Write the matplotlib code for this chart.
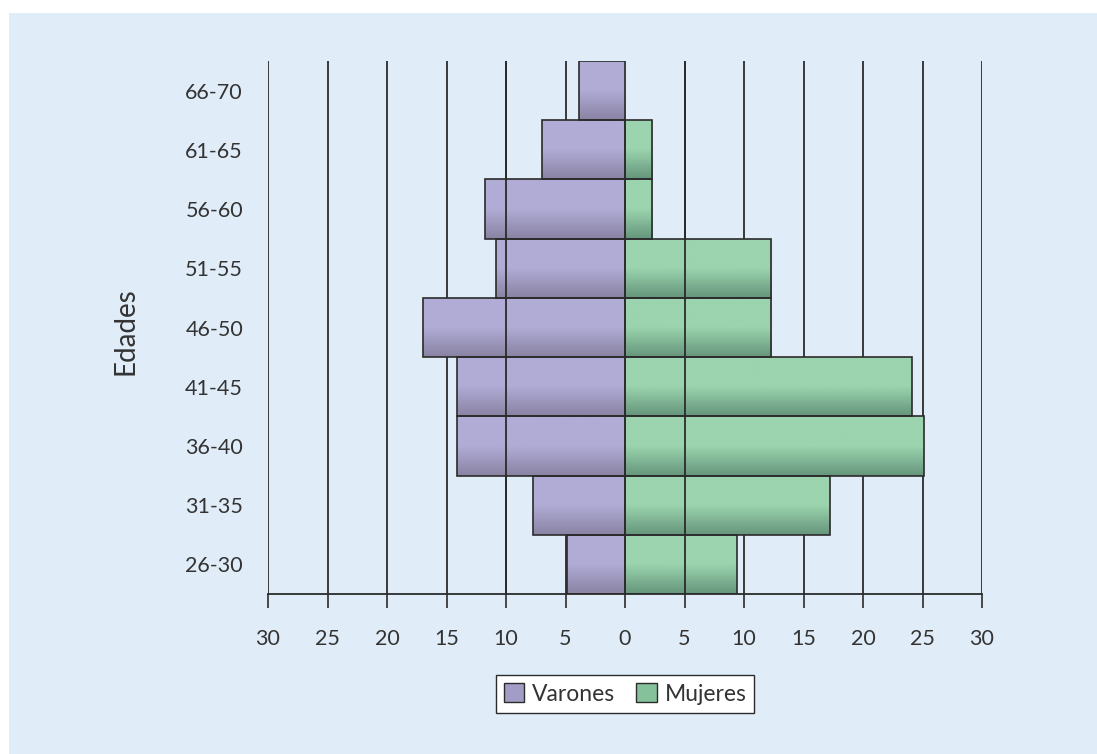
import numpy as np
import matplotlib
matplotlib.use('Agg')
import matplotlib.pyplot as plt
from matplotlib.patches import Rectangle, Patch
from matplotlib.colors import LinearSegmentedColormap

# ---- data ----
edades = ['26-30', '31-35', '36-40', '41-45', '46-50', '51-55', '56-60', '61-65', '66-70']
varones = [4.9, 7.7, 14.1, 14.1, 17.0, 10.8, 11.8, 7.0, 3.9]
mujeres = [9.4, 17.2, 25.1, 24.1, 12.3, 12.3, 2.3, 2.3, 0.0]
xtick_values = [-30, -25, -20, -15, -10, -5, 0, 5, 10, 15, 20, 25, 30]
xtick_labels = ['30', '25', '20', '15', '10', '5', '0', '5', '10', '15', '20', '25', '30']
series_names = ['Varones', 'Mujeres']

plt.rcParams['font.family'] = ['Lato', 'DejaVu Sans']

W, H = 1097, 754
fig = plt.figure(figsize=(W / 100, H / 100), dpi=100)
fig.patch.set_facecolor('white')
fig.add_artist(Rectangle((9 / W, 0), 1 - 9 / W, 1 - 13 / H, transform=fig.transFigure,
                         facecolor='#e0edf8', edgecolor='none', zorder=0))

ax = fig.add_axes([268 / W, 1 - 594 / H, (982 - 268) / W, (594 - 61) / H])
ax.set_facecolor('none')

dark = '#2b2b2b'
purple_top, purple_bot = '#b0acd6', '#8a83a3'
green_top, green_bot = '#9bd4ae', '#66967c'

y = np.arange(len(edades))

# gridlines behind bars
for xv in xtick_values:
    ax.axvline(xv, color=dark, lw=1.3, zorder=1)

bars_v = ax.barh(y, [-v for v in varones], height=1.0, color=purple_top, edgecolor='none', zorder=2)
bars_m = ax.barh(y, mujeres, height=1.0, color=green_top, edgecolor='none', zorder=2)

def gradient(bars, top, bot):
    cmap = LinearSegmentedColormap.from_list('g', [(0, bot), (0.5, top), (1, top)])
    grad = np.linspace(0, 1, 64).reshape(-1, 1)
    for b in bars:
        if b.get_width() == 0:
            continue
        x0, y0 = b.get_x(), b.get_y()
        x1, y1 = x0 + b.get_width(), y0 + b.get_height()
        im = ax.imshow(grad, extent=(min(x0, x1), max(x0, x1), y0, y1), origin='lower',
                       cmap=cmap, aspect='auto', zorder=2.1, interpolation='bilinear')
        im.set_clip_path(b)

gradient(bars_v, purple_top, purple_bot)
gradient(bars_m, green_top, green_bot)

# gridlines drawn over the bars
for xv in [-10, 5]:
    ax.axvline(xv, color=dark, lw=1.3, zorder=2.5)

ax.barh(y, [-v for v in varones], height=1.0, fill=False, edgecolor=dark, lw=1.2, zorder=3)
ax.barh([yy for yy, m in zip(y, mujeres) if m > 0], [m for m in mujeres if m > 0],
        height=1.0, fill=False, edgecolor=dark, lw=1.2, zorder=3)

ax.set_xlim(-30, 30)
ax.set_ylim(-0.5, len(edades) - 0.5)
ax.set_xticks(xtick_values)
ax.set_xticklabels(xtick_labels)
ax.set_yticks(y)
ax.set_yticklabels(edades)

for s in ['top', 'left', 'right']:
    ax.spines[s].set_visible(False)
ax.spines['bottom'].set_color(dark)
ax.spines['bottom'].set_linewidth(1.3)
ax.spines['bottom'].set_zorder(4)

ax.tick_params(axis='x', direction='out', length=10, width=1.2, color=dark, pad=15,
               labelsize=15.5, labelcolor='#333333')
ax.tick_params(axis='y', length=0, pad=18, labelsize=15.5, labelcolor='#333333')

fig.text(125 / W, 1 - 331 / H, 'Edades', rotation=90, ha='center', va='center',
         fontsize=20, color='#333333')

handles = [Patch(facecolor='#a29dc7', edgecolor=dark, lw=1.0),
           Patch(facecolor='#85c19b', edgecolor=dark, lw=1.0)]
leg = fig.legend(handles, series_names, loc='center', bbox_to_anchor=(625 / W, 1 - 694 / H),
                 bbox_transform=fig.transFigure, ncol=2, fontsize=16.5, frameon=True,
                 fancybox=False, edgecolor=dark, framealpha=1, handlelength=0.9,
                 handleheight=0.9, handletextpad=0.35, columnspacing=0.9, borderpad=0.35,
                 borderaxespad=0)
leg.get_frame().set_linewidth(1.0)
for t in leg.get_texts():
    t.set_color('#333333')

fig.savefig('out.png', dpi=100, facecolor='white')
